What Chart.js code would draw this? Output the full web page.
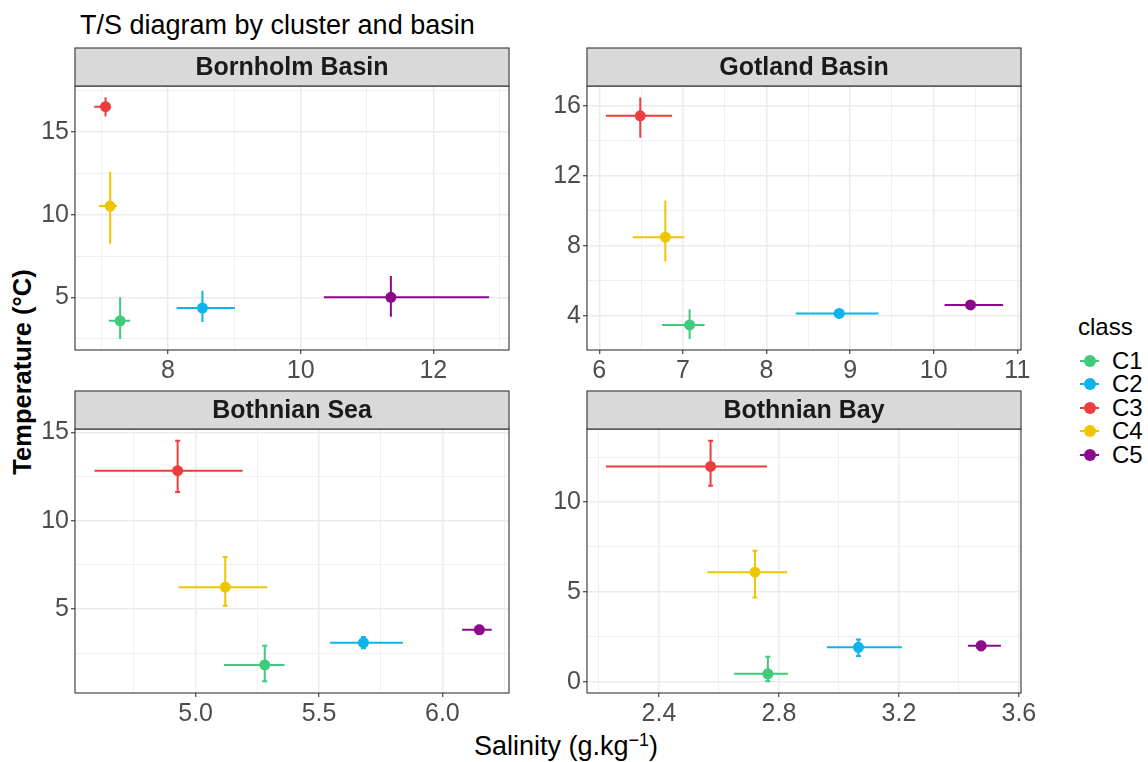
<!DOCTYPE html>
<html>
<head>
<meta charset="utf-8">
<script src="https://cdn.jsdelivr.net/npm/chart.js@4.4.1/dist/chart.umd.min.js"></script>
<style>
  body { margin: 0; background: #fff; font-family: 'Liberation Sans', Arial, sans-serif; }
  #page { position: relative; width: 1148px; height: 762px; overflow: hidden; background: #fff; }
  canvas { position: absolute; }
  .txt { position: absolute; white-space: nowrap; color: #000; line-height: 1; }
  .legend-item { position: absolute; height: 22px; }
  .legend-line { position: absolute; left: 0; top: 10px; width: 19px; height: 2px; }
  .legend-dot { position: absolute; left: 3.5px; top: 5px; width: 12px; height: 12px; border-radius: 50%; }
  .legend-label { position: absolute; left: 32px; top: 11px; transform: translateY(-50%); font-size: 24px; line-height: 1; color: #000; }
</style>
</head>
<body>
<div id="page">
  <div class="txt" style="left:80px; top:12px; font-size:27px;">T/S diagram by cluster and basin</div>
  <div class="txt" style="left:23px; top:372px; font-size:25.5px; font-weight:bold; transform: translate(-50%, -50%) rotate(-90deg);">Temperature (°C)</div>
  <div class="txt" style="left:566px; top:745px; font-size:27px; transform: translate(-50%, -50%);">Salinity (g.kg<sup style="font-size:18px; vertical-align: 9px;">−1</sup>)</div>
  <div class="txt" style="left:1078px; top:315px; font-size:24px;">class</div>
  <div id="legend"></div>
  <canvas id="c1" width="514" height="349" style="left:25px; top:41px;"></canvas>
  <canvas id="c2" width="514" height="349" style="left:537px; top:41px;"></canvas>
  <canvas id="c3" width="514" height="349" style="left:25px; top:384px;"></canvas>
  <canvas id="c4" width="514" height="349" style="left:537px; top:384px;"></canvas>
</div>
<script>
// ------------------ DATA ------------------
const classes = ["C1", "C2", "C3", "C4", "C5"];
const classColors = ["#3ECB7C", "#0DB4EC", "#EE3D3D", "#EEC600", "#8B0A8B"];

// Bornholm Basin (salinity g/kg, temperature °C), order C1..C5
const bornholmSal    = [7.28, 8.52, 7.06, 7.13, 11.36];
const bornholmSalLo  = [7.11, 8.13, 6.89, 6.96, 10.35];
const bornholmSalHi  = [7.43, 9.01, 7.13, 7.23, 12.84];
const bornholmTemp   = [3.58, 4.35, 16.55, 10.53, 5.00];
const bornholmTempLo = [2.47, 3.50, 15.95, 8.24, 3.83];
const bornholmTempHi = [5.00, 5.40, 17.12, 12.60, 6.29];

// Gotland Basin
const gotlandSal    = [7.08, 8.87, 6.49, 6.79, 10.44];
const gotlandSalLo  = [6.75, 8.35, 6.08, 6.40, 10.13];
const gotlandSalHi  = [7.26, 9.34, 6.87, 7.02, 10.83];
const gotlandTemp   = [3.49, 4.15, 15.43, 8.50, 4.63];
const gotlandTempLo = [2.69, 4.00, 14.17, 7.11, 4.50];
const gotlandTempHi = [4.38, 4.30, 16.47, 10.60, 4.75];

// Bothnian Sea
const seaSal    = [5.28, 5.68, 4.927, 5.12, 6.15];
const seaSalLo  = [5.115, 5.545, 4.59, 4.93, 6.08];
const seaSalHi  = [5.36, 5.84, 5.19, 5.29, 6.20];
const seaTemp   = [1.84, 3.10, 12.83, 6.24, 3.83];
const seaTempLo = [0.91, 2.78, 11.63, 5.19, 3.60];
const seaTempHi = [2.93, 3.42, 14.53, 7.95, 4.05];

// Bothnian Bay
const baySal    = [2.763, 3.065, 2.572, 2.72, 3.474];
const baySalLo  = [2.65, 2.96, 2.223, 2.561, 3.43];
const baySalHi  = [2.83, 3.21, 2.76, 2.827, 3.54];
const bayTemp   = [0.44, 1.91, 11.98, 6.09, 2.00];
const bayTempLo = [0.02, 1.43, 10.90, 4.68, 1.75];
const bayTempHi = [1.39, 2.35, 13.41, 7.28, 2.22];

// Tick values and labels
const bornholmXTicks = [8, 10, 12];            const bornholmXLabels = ["8", "10", "12"];
const bornholmXMinor = [7, 9, 11, 13];
const bornholmYTicks = [5, 10, 15];            const bornholmYLabels = ["5", "10", "15"];
const bornholmYMinor = [2.5, 7.5, 12.5, 17.5];

const gotlandXTicks = [6, 7, 8, 9, 10, 11];    const gotlandXLabels = ["6", "7", "8", "9", "10", "11"];
const gotlandXMinor = [6.5, 7.5, 8.5, 9.5, 10.5];
const gotlandYTicks = [4, 8, 12, 16];          const gotlandYLabels = ["4", "8", "12", "16"];
const gotlandYMinor = [6, 10, 14];

const seaXTicks = [5.0, 5.5, 6.0];             const seaXLabels = ["5.0", "5.5", "6.0"];
const seaXMinor = [4.75, 5.25, 5.75, 6.25];
const seaYTicks = [5, 10, 15];                 const seaYLabels = ["5", "10", "15"];
const seaYMinor = [2.5, 7.5, 12.5];

const bayXTicks = [2.4, 2.8, 3.2, 3.6];        const bayXLabels = ["2.4", "2.8", "3.2", "3.6"];
const bayXMinor = [2.2, 2.6, 3.0, 3.4];
const bayYTicks = [0, 5, 10];                  const bayYLabels = ["0", "5", "10"];
const bayYMinor = [2.5, 7.5, 12.5];

// ------------------ PANEL SETUP ------------------
Chart.defaults.font.family = "'Liberation Sans', Arial, sans-serif";

const panels = [
    { id: "c1", title: "Bornholm Basin", sal: bornholmSal, salLo: bornholmSalLo, salHi: bornholmSalHi,
      temp: bornholmTemp, tempLo: bornholmTempLo, tempHi: bornholmTempHi,
      xRange: [6.60, 13.14], yRange: [1.81, 17.80], cap: 0,
      xTicks: bornholmXTicks, xLabels: bornholmXLabels, xMinor: bornholmXMinor,
      yTicks: bornholmYTicks, yLabels: bornholmYLabels, yMinor: bornholmYMinor },
    { id: "c2", title: "Gotland Basin", sal: gotlandSal, salLo: gotlandSalLo, salHi: gotlandSalHi,
      temp: gotlandTemp, tempLo: gotlandTempLo, tempHi: gotlandTempHi,
      xRange: [5.853, 11.044], yRange: [2.06, 17.13], cap: 0,
      xTicks: gotlandXTicks, xLabels: gotlandXLabels, xMinor: gotlandXMinor,
      yTicks: gotlandYTicks, yLabels: gotlandYLabels, yMinor: gotlandYMinor },
    { id: "c3", title: "Bothnian Sea", sal: seaSal, salLo: seaSalLo, salHi: seaSalHi,
      temp: seaTemp, tempLo: seaTempLo, tempHi: seaTempHi,
      xRange: [4.511, 6.27], yRange: [0.25, 15.19], cap: 2.5,
      xTicks: seaXTicks, xLabels: seaXLabels, xMinor: seaXMinor,
      yTicks: seaYTicks, yLabels: seaYLabels, yMinor: seaYMinor },
    { id: "c4", title: "Bothnian Bay", sal: baySal, salLo: baySalLo, salHi: baySalHi,
      temp: bayTemp, tempLo: bayTempLo, tempHi: bayTempHi,
      xRange: [2.16, 3.607], yRange: [-0.63, 14.06], cap: 2.5,
      xTicks: bayXTicks, xLabels: bayXLabels, xMinor: bayXMinor,
      yTicks: bayYTicks, yLabels: bayYLabels, yMinor: bayYMinor }
];

const isIn = (list, v) => list.some(t => Math.abs(t - v) < 1e-9);

// Draws error bars under points, the panel border and the grey strip on top
const panelPlugin = {
    id: "panelDecor",
    beforeDatasetsDraw(chart) {
        const p = chart.options.plugins.panelDecor;
        const ctx = chart.ctx;
        const xs = chart.scales.x, ys = chart.scales.y;
        ctx.save();
        ctx.lineWidth = 2;
        ctx.lineCap = "butt";
        p.sal.forEach((s, i) => {
            const px = xs.getPixelForValue(s);
            const py = ys.getPixelForValue(p.temp[i]);
            ctx.strokeStyle = classColors[i];
            ctx.beginPath();
            ctx.moveTo(xs.getPixelForValue(p.salLo[i]), py);
            ctx.lineTo(xs.getPixelForValue(p.salHi[i]), py);
            const y0 = ys.getPixelForValue(p.tempLo[i]);
            const y1 = ys.getPixelForValue(p.tempHi[i]);
            ctx.moveTo(px, y0);
            ctx.lineTo(px, y1);
            if (p.cap > 0) {
                ctx.moveTo(px - p.cap, y0); ctx.lineTo(px + p.cap, y0);
                ctx.moveTo(px - p.cap, y1); ctx.lineTo(px + p.cap, y1);
            }
            ctx.stroke();
        });
        ctx.restore();
    },
    afterDraw(chart) {
        const p = chart.options.plugins.panelDecor;
        const ctx = chart.ctx;
        const a = chart.chartArea;
        ctx.save();
        ctx.strokeStyle = "#333333";
        ctx.lineWidth = 1.1;
        ctx.strokeRect(a.left, a.top, a.right - a.left, a.bottom - a.top);
        // strip
        ctx.fillStyle = "#D9D9D9";
        ctx.fillRect(a.left, a.top - 38, a.right - a.left, 38);
        ctx.strokeRect(a.left, a.top - 38, a.right - a.left, 38);
        ctx.fillStyle = "#1A1A1A";
        ctx.font = "bold 25px 'Liberation Sans', Arial, sans-serif";
        ctx.textAlign = "center";
        ctx.textBaseline = "middle";
        ctx.fillText(p.title, (a.left + a.right) / 2, a.top - 18);
        ctx.restore();
    }
};

function axisOptions(range, majors, labels, minors, isY) {
    const all = majors.concat(minors).sort((a, b) => a - b);
    return {
        type: "linear",
        min: range[0],
        max: range[1],
        afterBuildTicks: (scale) => { scale.ticks = all.map(v => ({ value: v })); },
        afterFit: (scale) => {
            if (isY) scale.width = 50; else scale.height = 40;
        },
        border: { display: false },
        grid: {
            color: "#EBEBEB",
            lineWidth: (c) => (c.tick && isIn(majors, c.tick.value)) ? 1.5 : 0.75,
            tickLength: 4,
            tickColor: (c) => (c.tick && isIn(majors, c.tick.value)) ? "#333333" : "rgba(0,0,0,0)",
            tickWidth: 1.1
        },
        ticks: {
            autoSkip: false,
            maxRotation: 0,
            padding: 2,
            color: "#4D4D4D",
            font: { size: 25 },
            callback: (value) => {
                const k = majors.findIndex(t => Math.abs(t - value) < 1e-9);
                return k >= 0 ? labels[k] : "";
            }
        }
    };
}

panels.forEach(p => {
    const datasets = classes.map((c, i) => ({
        label: c,
        data: [{ x: p.sal[i], y: p.temp[i] }],
        backgroundColor: classColors[i],
        borderColor: classColors[i],
        borderWidth: 0,
        pointRadius: 5.5,
        pointHoverRadius: 5.5
    }));
    new Chart(document.getElementById(p.id), {
        type: "scatter",
        data: { datasets: datasets },
        options: {
            responsive: false,
            animation: false,
            devicePixelRatio: 1,
            layout: { padding: { top: 45, right: 30, left: 0, bottom: 0 } },
            plugins: {
                legend: { display: false },
                tooltip: { enabled: false },
                panelDecor: p
            },
            scales: {
                x: axisOptions(p.xRange, p.xTicks, p.xLabels, p.xMinor, false),
                y: axisOptions(p.yRange, p.yTicks, p.yLabels, p.yMinor, true)
            }
        },
        plugins: [panelPlugin]
    });
});

// ------------------ LEGEND ------------------
const legendEl = document.getElementById("legend");
classes.forEach((c, i) => {
    const item = document.createElement("div");
    item.className = "legend-item";
    item.style.left = "1080px";
    item.style.top = (350 + i * 23.4) + "px";
    item.innerHTML =
        `<div class="legend-line" style="background:${classColors[i]}"></div>` +
        `<div class="legend-dot" style="background:${classColors[i]}"></div>` +
        `<div class="legend-label">${c}</div>`;
    legendEl.appendChild(item);
});
</script>
</body>
</html>
